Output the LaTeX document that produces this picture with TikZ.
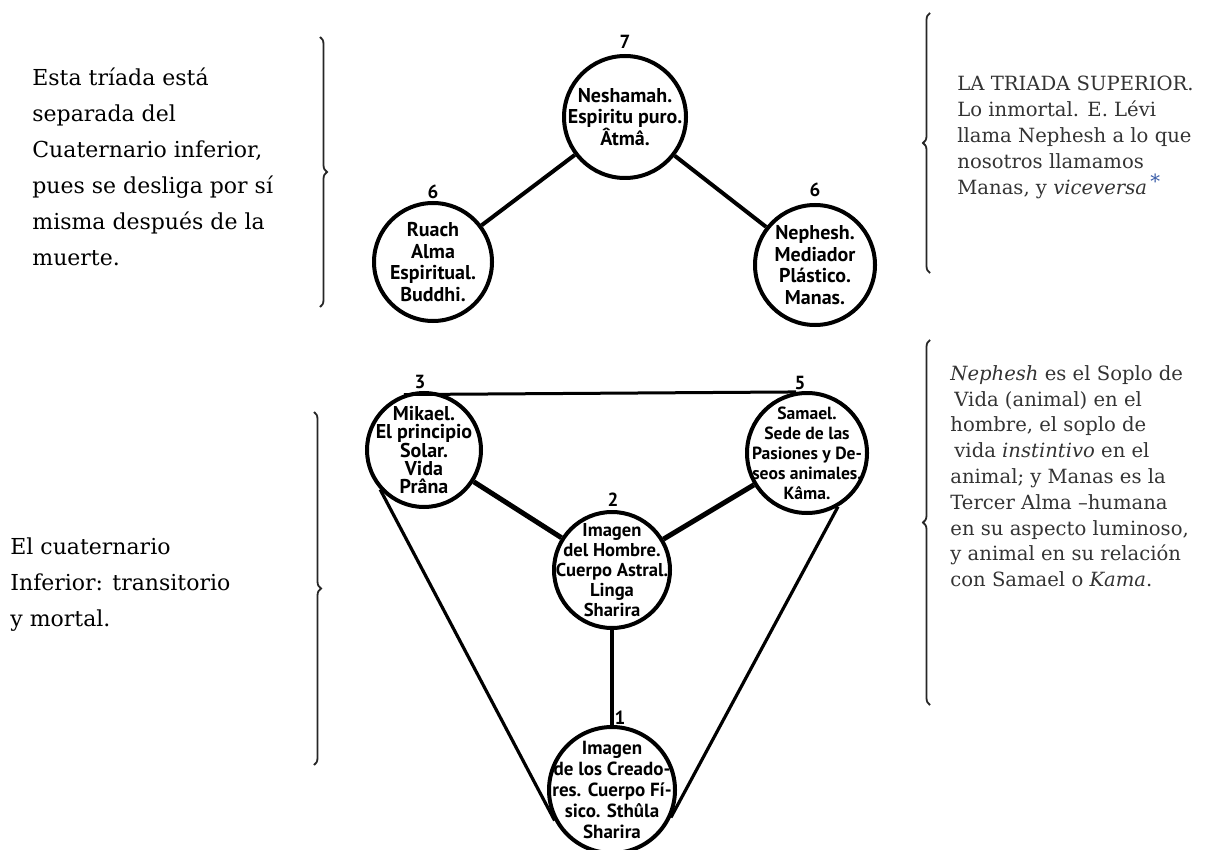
\documentclass[tikz,border=0pt]{standalone}
\usepackage{fontspec}
\setmainfont{DejaVu Serif}
\newfontfamily\handfont{PT Sans}
\usetikzlibrary{decorations.pathreplacing}
\definecolor{noteGray}{HTML}{333333}
\definecolor{starBlue}{HTML}{3A5DA8}

\begin{document}
\begin{tikzpicture}
[x=0.5pt,y=-0.5pt,
  soulDecorate/.style={shape=circle,draw,line width=2pt,minimum size=#1,inner sep=0pt},
  soulText/.style={font=\handfont\bfseries\fontsize{10}{10.8}\selectfont,align=center,inner sep=0pt},
  numDecorate/.style={font=\handfont\bfseries\fontsize{9.5}{9.5}\selectfont,inner sep=0pt},
  lineDecorate/.style={-,line width=#1},
  braceDecorate/.style={decorate,decoration={brace,amplitude=3.5pt},line width=0.9pt,black!85},
  noteLeft/.style={font=\fontsize{11}{18}\selectfont,align=left,inner sep=0pt,anchor=north west},
  noteRight/.style={font=\fontsize{9.8}{12.9}\selectfont,align=left,inner sep=0pt,anchor=north west,text=noteGray}]
\useasboundingbox (0,0) rectangle (1220,850);
%% the upper triad
\node (atma) at (625,117) [soulDecorate=61pt,
  label={[soulText]center:{Neshamah.\\Espiritu puro.\\Âtmâ.}}] {};
\node (buddhi) at (433,262) [soulDecorate=59pt,
  label={[soulText]center:{Ruach\\Alma\\Espiritual.\\Buddhi.}}] {};
\node (manas) at (815,265) [soulDecorate=60pt,
  label={[soulText]center:{Nephesh.\\Mediador\\Plástico.\\Manas.}}] {};
%% the lower quaternary
\node (prana) at (424,450) [soulDecorate=57pt,
  label={[soulText,font=\handfont\bfseries\fontsize{10}{9.2}\selectfont]center:{Mikael.\\El principio\\Solar.\\Vida\\Prâna}}] {};
\node (kama) at (807,453) [soulDecorate=60pt,
  label={[soulText,font=\handfont\bfseries\fontsize{8.8}{10}\selectfont]center:{Samael.\\Sede de las\\Pasiones y De-\\seos animales.\\Kâma.}}] {};
\node (linga) at (612,570) [soulDecorate=58pt,
  label={[soulText,font=\handfont\bfseries\fontsize{9.3}{10}\selectfont]center:{Imagen\\del Hombre.\\Cuerpo Astral.\\Linga\\Sharira}}] {};
\node (sthula) at (612,790) [soulDecorate=63pt,
  label={[soulText,font=\handfont\bfseries\fontsize{9.5}{10.5}\selectfont]center:{Imagen\\de los Creado-\\res. Cuerpo Fí-\\sico. Sthûla\\Sharira}}] {};
%% numbers
\foreach \numname/\x/\y/\numtext in {
  n7/625/42/7, n6a/433/192/6, n6b/815/190/6, n3/420/382/3,
  n5/800/383/5, n2/613/500/2, n1/620/718/1}
{
  \node (\numname) at (\x,\y) [numDecorate] {\numtext};
}
%% edges or lines
\path
\foreach \startnode/\endnode/\width in {
  atma/buddhi/2pt, atma/manas/2pt, prana/linga/2.5pt, kama/linga/2.5pt,
  linga/sthula/1.8pt, prana.110/kama.100/1.5pt,
  prana.222/sthula.208/1.6pt, kama.300/sthula.335/1.6pt}
{
  (\startnode) edge[lineDecorate=\width] (\endnode)
};
%% braces
\coordinate (braceA1) at (320,37);  \coordinate (braceA2) at (320,307);
\coordinate (braceB1) at (314,412); \coordinate (braceB2) at (314,765);
\coordinate (braceC1) at (930,273); \coordinate (braceC2) at (930,13);
\coordinate (braceD1) at (930,705); \coordinate (braceD2) at (930,340);
\foreach \bstart/\bend in {braceA1/braceA2, braceB1/braceB2, braceC1/braceC2, braceD1/braceD2}
{
  \draw[braceDecorate] (\bstart) -- (\bend);
}
%% notes
\node (triadaNote) at (32,68) [noteLeft]
  {Esta tríada está\\separada del\\Cuaternario inferior,\\pues se desliga por sí\\misma después de la\\muerte.};
\node (cuaternarioNote) at (10,537) [noteLeft]
  {El cuaternario\\Inferior: transitorio\\y mortal.};
\node (superiorNote) at (957,76) [noteRight]
  {LA TRIADA SUPERIOR.\\Lo inmortal. E. Lévi\\llama Nephesh a lo que\\nosotros llamamos\\Manas, y \textit{viceversa}\,\raisebox{0.6ex}{\textcolor{starBlue}{*}}};
\node (nepheshNote) at (950,365) [noteRight]
  {\textit{Nephesh} es el Soplo de\\\hspace{2pt}Vida (animal) en el\\hombre, el soplo de\\\hspace{2pt}vida \textit{instintivo} en el\\animal; y Manas es la\\Tercer Alma –humana\\en su aspecto luminoso,\\y animal en su relación\\con Samael o \textit{Kama}.};
\end{tikzpicture}
\end{document}
